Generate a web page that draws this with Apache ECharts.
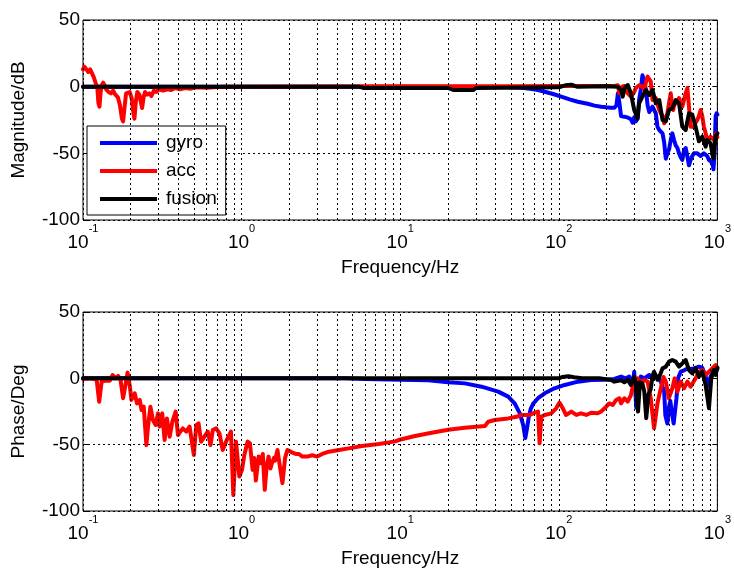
<!DOCTYPE html>
<html>
<head>
<meta charset="utf-8">
<script src="https://cdn.jsdelivr.net/npm/echarts@6/dist/echarts.min.js"></script>
<style>
  html, body { margin: 0; padding: 0; background: #fff; }
  #chart { width: 734px; height: 571px; }
</style>
</head>
<body>
<div id="chart"></div>
<script>
// Frequency axis: decades and the 2..9 sub-decade grid lines
const decades = [0.1, 1, 10, 100, 1000];
const minorFreqs = [
  0.2, 0.3, 0.4, 0.5, 0.6, 0.7, 0.8, 0.9,
  2, 3, 4, 5, 6, 7, 8, 9,
  20, 30, 40, 50, 60, 70, 80, 90,
  200, 300, 400, 500, 600, 700, 800, 900
];
const yTicks = [-100, -50, 0, 50];
const seriesNames = ['gyro', 'acc', 'fusion'];

// Magnitude (dB) vs frequency (Hz)
const magGyro = [
  [0.1, 0], [10, 0], [45, -0.2], [58, -0.8], [66, -1.5], [74, -2.6], [81.5, -3.8], [92, -5.5],
  [103.6, -7.5], [117, -9.5], [131.8, -11.3], [152, -12.8], [168, -14.2], [185, -15], [199, -15.5],
  [212, -15.8], [224, -15.8], [231, -14], [236, -5], [241, -12], [247, -22], [259, -22.5], [270, -23],
  [285, -24.5], [292, -27], [299, -23], [306, -26], [314, -24], [321, -10], [329, -2], [337, 8.5],
  [346, 4], [354, -2], [363, -14], [372, -19], [380, -17.5], [390, -15], [399, -14], [409, -20],
  [419, -30], [430, -32.5], [440, -33], [451, -35], [462, -42], [473, -54], [484, -50], [496, -47],
  [508, -40], [520, -35], [533, -40], [546, -44], [560, -46], [573, -50], [587, -53], [601, -55],
  [616, -48], [631, -46], [646, -52], [662, -59], [678, -55], [695, -52], [711, -50], [729, -51],
  [747, -50], [765, -50], [784, -52], [803, -51], [822, -50], [843, -51], [863, -52], [885, -55],
  [906, -55], [929, -57], [945, -62], [960, -50], [975, -22], [990, -20], [1000, -21]
];
const magAcc = [
  [0.1, 13], [0.102, 15], [0.105, 14], [0.108, 11], [0.111, 13], [0.114, 10], [0.117, 7], [0.12, 3],
  [0.123, 0], [0.125, -12], [0.127, -15], [0.129, -5], [0.131, 1], [0.134, 3], [0.137, 1], [0.14, -2],
  [0.145, -4], [0.15, -5], [0.155, -3], [0.16, -6], [0.166, -8], [0.171, -14], [0.176, -24],
  [0.179, -26], [0.183, -15], [0.187, -5], [0.192, -6], [0.197, -4], [0.203, -9], [0.207, -18],
  [0.211, -24], [0.215, -12], [0.22, -4], [0.227, -6], [0.232, -12], [0.236, -16], [0.241, -8],
  [0.246, -4], [0.254, -6], [0.262, -5], [0.27, -7], [0.28, -3], [0.29, -4], [0.3, -2], [0.32, -3],
  [0.34, -2], [0.36, -2.5], [0.38, -1], [0.41, -2], [0.44, -1], [0.48, -1.5], [0.52, -0.5],
  [0.6, -0.8], [0.7, -0.2], [0.8, 0], [2, 0.2], [10, 0.3], [50, 0.3], [100, 0.5], [200, 0.5],
  [224, 0.5], [236, 1], [241, -5], [250, 0], [259, 0.5], [265, -3], [272, -5], [285, -7.5],
  [299, -4], [306, -1], [314, 0], [321, 1], [329, 2.5], [337, 0], [346, -2.5], [354, 3], [363, 7.5],
  [372, 6], [380, 4], [390, -10], [399, -9], [409, -8.5], [419, -13], [430, -17.5], [440, -18],
  [451, -22], [462, -27.5], [473, -24], [484, -20], [496, -12], [508, -5], [520, -15], [527, -17.5],
  [533, -14], [546, -15], [560, -11], [573, -8.5], [587, -12], [601, -15], [616, -10], [631, -5],
  [647, -1], [662, -15], [678, -30], [695, -31], [711, -30], [729, -27], [747, -25], [765, -22],
  [784, -17.5], [803, -22], [822, -30], [843, -35], [863, -40], [885, -39], [906, -37.5],
  [929, -38], [951, -40], [970, -37], [985, -35], [1000, -38]
];
const magFusion = [
  [0.1, 0], [5.5, 0], [5.9, -1], [20, -1], [21.6, -2.5], [29, -2.5], [30, -1], [100, -0.5],
  [110, 1], [120, 1.5], [130, 0], [200, 0.3], [235, 0], [247, -2.5], [253, -7.5], [259, -1.25],
  [272, 1.25], [285, -5], [299, -17.5], [314, -23.75], [321, -12.5], [337, -7.5], [354, -2.5],
  [372, -6.25], [390, -2.5], [409, -12.5], [430, -10], [451, -25], [473, -26], [496, -17.5],
  [520, -16], [546, -10], [573, -12.5], [601, -30], [631, -32.5], [662, -20], [695, -21],
  [729, -30], [765, -41], [803, -37.5], [843, -45], [863, -40], [906, -42.5], [942, -54],
  [973, -37.5], [1000, -35]
];

// Phase (deg) vs frequency (Hz)
const phaseGyro = [
  [0.1, 0], [4.5, 0], [6, -0.5], [10, -1], [15, -1.5], [20.1, -3], [25.6, -3.8], [32.6, -6.3],
  [41.5, -10], [48, -13.8], [52.8, -19], [56.8, -26.4], [59.6, -35], [61.5, -45], [63, -38],
  [64.5, -30], [66.5, -23], [69, -19], [74, -15], [81.5, -11.3], [94, -7.5], [109, -5], [132, -2.5],
  [160, -1.3], [194, -1], [224, -0.5], [247, 1.3], [265, 0], [278, 1.3], [292, -5], [299, 5],
  [308, -22], [316, -5], [329, 1.3], [346, 0], [359, 1.3], [372, 2.5], [390, 0], [399, 2.5],
  [419, 1.3], [440, -2.5], [451, -2], [462, -10], [470, -28], [484, -34], [495, -22], [505, -17],
  [515, -25], [530, -34], [540, -34], [552, -15], [565, 0], [587, 5], [617, 6], [647, 7.5],
  [678, 7], [711, 7.5], [765, 8.8], [803, 8], [822, 7.5], [843, 2], [863, -6.3], [885, -2],
  [906, 1.3], [940, 5], [973, 7.5], [1000, 7]
];
const phaseAcc = [
  [0.1, -0.5], [0.1106, 0], [0.1219, -1], [0.1265, -17.6], [0.131, -2.5], [0.1375, -1.8],
  [0.1477, -1.8], [0.1536, 2.5], [0.161, 0], [0.1666, 1.8], [0.1725, -1.3], [0.179, -15],
  [0.186, -3.8], [0.191, 4.3], [0.197, -5], [0.202, -16.3], [0.212, -11.3], [0.219, -18.9],
  [0.228, -16.3], [0.234, -23.9], [0.2415, -21.4], [0.251, -50.3], [0.257, -36.4], [0.266, -21.4],
  [0.276, -31.4], [0.287, -35.2], [0.297, -26.4], [0.304, -36.4], [0.316, -26.4], [0.327, -46.5],
  [0.338, -30.2], [0.352, -44], [0.366, -32.7], [0.384, -25.1], [0.397, -42.7], [0.411, -40.2],
  [0.426, -37.7], [0.448, -40.2], [0.47, -36.4], [0.5, -57.8], [0.518, -35.2], [0.535, -33.9],
  [0.556, -47.8], [0.583, -44], [0.612, -40.2], [0.637, -50.3], [0.658, -39], [0.691, -37.7],
  [0.725, -41.5], [0.76, -54], [0.798, -47.8], [0.837, -42.7], [0.857, -40.2], [0.887, -88],
  [0.922, -47.8], [0.968, -74], [1.006, -69], [1.04, -58], [1.091, -47.7], [1.129, -49],
  [1.173, -69], [1.2, -60], [1.23, -77], [1.28, -59], [1.324, -64], [1.36, -57], [1.4, -84],
  [1.44, -66], [1.479, -59], [1.52, -68], [1.553, -64], [1.6, -60], [1.627, -62], [1.683, -54],
  [1.742, -66], [1.81, -79], [1.88, -60], [1.945, -54], [2.013, -55], [2.091, -56], [2.194, -57],
  [2.302, -57], [2.416, -59], [2.596, -59], [2.79, -58], [2.999, -59], [3.223, -57], [3.554, -55.3],
  [4.106, -54], [4.742, -52.8], [5.75, -51], [7.32, -49.5], [9.31, -47.5], [9.77, -46.5],
  [12.4, -43.5], [15.8, -41], [20.1, -38.7], [25.6, -37.2], [34.2, -36], [35.9, -32.7],
  [39.5, -31.4], [48, -30.2], [54.1, -29], [58.1, -27.6], [65.6, -27.6], [70.5, -25.9],
  [74, -25.1], [75.7, -49], [77.6, -29], [81.5, -27.6], [89.6, -26.4], [96.3, -22.6], [101, -18.3],
  [106, -22.6], [111, -27.6], [120, -25.1], [129, -27.6], [138, -26.4], [149, -27.6], [160, -25.9],
  [176, -26.4], [185, -25], [199, -21.4], [208, -18.9], [219, -20], [230, -16.3], [241, -15],
  [247, -18.9], [259, -15], [272, -17.6], [285, -12.6], [299, -1.3], [314, 0], [329, -2.5],
  [346, -1.3], [363, -2.5], [380, -15], [399, -37.7], [419, -18.9], [440, -7.5], [458, 1],
  [473, -2.5], [494, -15], [520, -7.5], [538, 0], [560, -10], [587, -2.5], [617, -7.5],
  [647, -2.5], [678, -6.3], [729, 0], [765, 5], [803, 6.3], [843, 2.5], [885, 5], [929, 7.5],
  [973, 10], [1000, 8]
];
const phaseFusion = [
  [0.1, 0], [100, 0], [105, 1], [115, 1.5], [125, 0.8], [140, 0], [180, 0], [214, -1.3],
  [224, -2.5], [247, -1.5], [259, -3], [272, -1], [285, -5], [299, 1], [306, -3], [316, -25],
  [325, -3], [337, -4], [346, -10], [356, -30], [368, -12], [380, -8], [390, 2], [399, 5],
  [419, -1], [430, 1], [451, 7.5], [473, 8.8], [496, 12.6], [520, 13.8], [546, 12.6], [573, 8.8],
  [601, 11.3], [631, 13.8], [662, 6.3], [695, 3.8], [729, 7.5], [765, 1.3], [803, 5], [843, -5],
  [885, -22.6], [915, 0], [951, 6.3], [973, 2.5], [1000, 8]
];

const FONT = 'Liberation Sans, Arial, Helvetica, sans-serif';
const colors = { gyro: '#0000ff', acc: '#ff0000', fusion: '#000000' };
const gridLine = { color: '#000', type: [2, 3], width: 1 };

const grids = [
  { left: 83, top: 20, width: 637, height: 200 },
  { left: 83, top: 312, width: 637, height: 199 }
];

function freqAxis(gi, pos, showLabels, name) {
  return {
    type: 'log', logBase: 10, gridIndex: gi, position: pos,
    min: decades[0], max: decades[decades.length - 1],
    axisLine: { show: false },
    axisTick: { show: true, inside: true, length: 5, lineStyle: { color: '#000' } },
    splitLine: { show: false },
    axisLabel: showLabels ? {
      show: true, margin: 3, color: '#000', fontFamily: FONT,
      formatter: v => '{b|10}{s|' + Math.round(Math.log10(v)) + '}',
      rich: {
        b: { fontSize: 19, fontFamily: FONT, color: '#000', lineHeight: 29, verticalAlign: 'bottom' },
        s: { fontSize: 11, fontFamily: FONT, color: '#000', lineHeight: 8, verticalAlign: 'top' }
      }
    } : { show: false },
    name: name || '', nameLocation: 'middle', nameGap: 38,
    nameTextStyle: { fontSize: 19, fontFamily: FONT, color: '#000' }
  };
}

function valueAxis(gi, pos, showLabels, name) {
  return {
    type: 'value', gridIndex: gi, position: pos,
    min: yTicks[0], max: yTicks[yTicks.length - 1], interval: 50,
    axisLine: { show: false },
    axisTick: { show: true, inside: true, length: 5, lineStyle: { color: '#000' } },
    splitLine: { show: showLabels, lineStyle: gridLine },
    axisLabel: showLabels ? { show: true, margin: 3, fontSize: 19, fontFamily: FONT, color: '#000' } : { show: false },
    name: name || '', nameLocation: 'middle', nameGap: 55,
    nameTextStyle: { fontSize: 19, fontFamily: FONT, color: '#000' }
  };
}

function gridHolder(gi) {
  // carries the dotted vertical grid lines for one panel
  return {
    type: 'line', xAxisIndex: gi, yAxisIndex: gi, data: [], z: 1, silent: true,
    markLine: {
      silent: true, animation: false, symbol: ['none', 'none'],
      label: { show: false }, lineStyle: gridLine,
      data: decades.concat(minorFreqs).map(f => ({ xAxis: f }))
    }
  };
}

function curve(name, data, gi) {
  return {
    name, type: 'line', xAxisIndex: gi, yAxisIndex: gi, data,
    showSymbol: false, symbol: 'none', z: 3, animation: false,
    itemStyle: { color: colors[name] },
    lineStyle: { color: colors[name], width: 4, join: 'round', cap: 'round' }
  };
}

const chart = echarts.init(document.getElementById('chart'), null, { renderer: 'canvas' });
chart.setOption({
  animation: false,
  backgroundColor: '#fff',
  grid: grids.map(g => Object.assign({ show: true, borderColor: '#000', borderWidth: 1, backgroundColor: 'transparent' }, g)),
  xAxis: [
    freqAxis(0, 'bottom', true, 'Frequency/Hz'),
    freqAxis(1, 'bottom', true, 'Frequency/Hz'),
    freqAxis(0, 'top', false),
    freqAxis(1, 'top', false)
  ],
  yAxis: [
    valueAxis(0, 'left', true, 'Magnitude/dB'),
    valueAxis(1, 'left', true, 'Phase/Deg'),
    valueAxis(0, 'right', false),
    valueAxis(1, 'right', false)
  ],
  legend: {
    data: seriesNames, orient: 'vertical', left: 87, top: 126,
    padding: [7, 9, 6, 13], itemGap: 8, itemWidth: 57, itemHeight: 4, icon: 'rect',
    backgroundColor: '#fff', borderColor: '#000', borderWidth: 1, borderRadius: 0,
    textStyle: { fontSize: 19, fontFamily: FONT, color: '#000', lineHeight: 20, padding: [0, 0, 0, 4] },
    selectedMode: false
  },
  series: [
    gridHolder(0), gridHolder(1),
    curve('gyro', magGyro, 0), curve('acc', magAcc, 0), curve('fusion', magFusion, 0),
    curve('gyro', phaseGyro, 1), curve('acc', phaseAcc, 1), curve('fusion', phaseFusion, 1)
  ]
});
</script>
</body>
</html>
